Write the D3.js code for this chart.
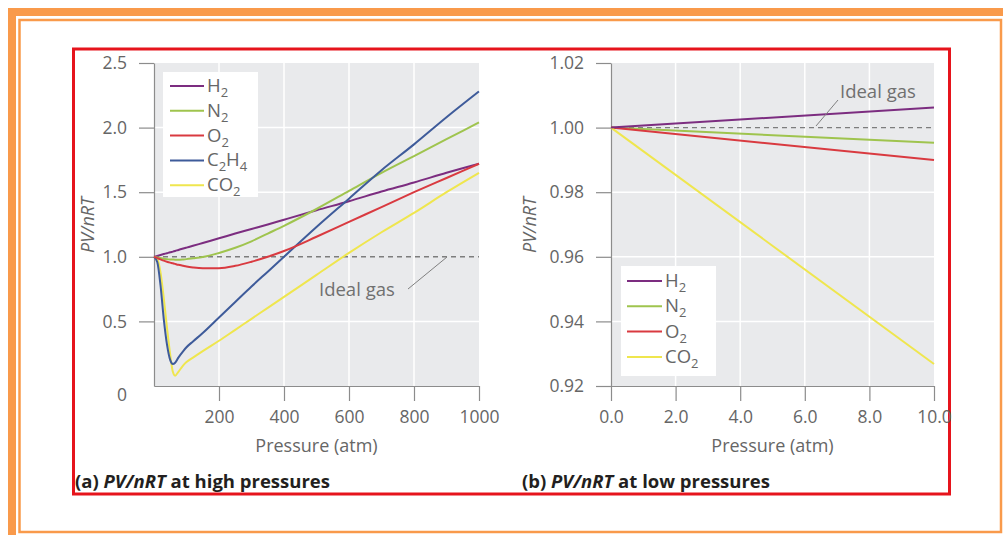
<!DOCTYPE html>
<html>
<head>
<meta charset="utf-8">
<script src="https://cdn.jsdelivr.net/npm/d3@7"></script>
<style>
  html, body { margin: 0; padding: 0; background: #fff; }
  svg { display: block; }
  text { font-family: "Open Sans", "Noto Sans", sans-serif; }
</style>
</head>
<body>
<svg id="chart" width="1003" height="535"></svg>
<script>
// ---------- DATA ----------
const pressureHigh = [0, 10, 20, 30, 40, 50, 58, 65, 75, 90, 100, 120, 150, 200, 250, 300, 350, 400, 500, 600, 700, 800, 900, 1000];
const h2High   = [1.0, 1.007, 1.014, 1.021, 1.028, 1.035, 1.04, 1.045, 1.053, 1.064, 1.071, 1.085, 1.107, 1.143, 1.18, 1.215, 1.25, 1.287, 1.36, 1.43, 1.505, 1.575, 1.65, 1.72];
const n2High   = [1.0, 0.995, 0.99, 0.985, 0.982, 0.98, 0.979, 0.978, 0.978, 0.98, 0.982, 0.988, 0.998, 1.03, 1.07, 1.12, 1.18, 1.24, 1.37, 1.51, 1.65, 1.78, 1.91, 2.04];
const o2High   = [1.0, 0.99, 0.98, 0.97, 0.962, 0.955, 0.95, 0.945, 0.938, 0.93, 0.925, 0.918, 0.912, 0.912, 0.93, 0.962, 1.0, 1.045, 1.155, 1.27, 1.385, 1.5, 1.61, 1.72];
const c2h4High = [1.0, 0.96, 0.78, 0.52, 0.32, 0.2, 0.17, 0.18, 0.22, 0.27, 0.3, 0.345, 0.41, 0.53, 0.65, 0.77, 0.885, 1.0, 1.23, 1.45, 1.67, 1.87, 2.08, 2.28];
const co2High  = [1.0, 0.98, 0.88, 0.68, 0.45, 0.24, 0.11, 0.08, 0.11, 0.16, 0.185, 0.22, 0.27, 0.35, 0.435, 0.52, 0.605, 0.69, 0.86, 1.03, 1.19, 1.34, 1.5, 1.65];

const pressureLow = [0, 10];
const h2Low  = [1.0, 1.0062];
const n2Low  = [1.0, 0.9953];
const o2Low  = [1.0, 0.990];
const co2Low = [1.0, 0.9268];

const highXTicks = [200, 400, 600, 800, 1000];
const highYTicks = [0, 0.5, 1.0, 1.5, 2.0, 2.5];
const lowXTicks  = [0, 2, 4, 6, 8, 10];
const lowYTicks  = [0.92, 0.94, 0.96, 0.98, 1.00, 1.02];

const gasHigh = [
  {name: "H", sub: "2", key: "H2", values: h2High},
  {name: "N", sub: "2", key: "N2", values: n2High},
  {name: "O", sub: "2", key: "O2", values: o2High},
  {name: "C", sub: "2", name2: "H", sub2: "4", key: "C2H4", values: c2h4High},
  {name: "CO", sub: "2", key: "CO2", values: co2High}
];
const gasLow = [
  {name: "H", sub: "2", key: "H2", values: h2Low},
  {name: "N", sub: "2", key: "N2", values: n2Low},
  {name: "O", sub: "2", key: "O2", values: o2Low},
  {name: "CO", sub: "2", key: "CO2", values: co2Low}
];
const colors = {H2: "#7c2d80", N2: "#9fc44e", O2: "#d93a40", C2H4: "#3e5b9a", CO2: "#efe64e"};

// ---------- DRAW ----------
const svg = d3.select("#chart");
const TXT = "#666666", AX = "#8c8c8c";

// frames
svg.append("rect").attr("x", 12).attr("y", 12).attr("width", 1003).attr("height", 535)
  .attr("fill", "none").attr("stroke", "#f99a4b").attr("stroke-width", 8);
svg.append("rect").attr("x", 19.5).attr("y", 20).attr("width", 981.5).attr("height", 512)
  .attr("fill", "none").attr("stroke", "#f99a4b").attr("stroke-width", 2.5);
svg.append("rect").attr("x", 73.5).attr("y", 49).attr("width", 876).attr("height", 445)
  .attr("fill", "none").attr("stroke", "#e6141c").attr("stroke-width", 3);

function panel(opt) {
  const g = svg.append("g");
  const x = d3.scaleLinear().domain(opt.xDomain).range(opt.xRange);
  const y = d3.scaleLinear().domain(opt.yDomain).range(opt.yRange);
  // background
  g.append("rect").attr("x", opt.xRange[0]).attr("y", opt.yRange[1])
    .attr("width", opt.xRange[1] - opt.xRange[0]).attr("height", opt.yRange[0] - opt.yRange[1])
    .attr("fill", "#e9eaec");
  // grid
  g.selectAll(".vg").data(opt.xGrid).join("line")
    .attr("x1", d => x(d)).attr("x2", d => x(d))
    .attr("y1", opt.yRange[0]).attr("y2", opt.yRange[1])
    .attr("stroke", "#fff").attr("stroke-width", 1.5);
  g.selectAll(".hg").data(opt.yGrid).join("line")
    .attr("x1", opt.xRange[0]).attr("x2", opt.xRange[1])
    .attr("y1", d => y(d)).attr("y2", d => y(d))
    .attr("stroke", "#fff").attr("stroke-width", 1.5);
  // ideal gas dashed
  g.append("line").attr("x1", x(opt.xDomain[0])).attr("x2", x(opt.xDomain[1]))
    .attr("y1", y(1)).attr("y2", y(1))
    .attr("stroke", "#7d7d7d").attr("stroke-width", 1.4).attr("stroke-dasharray", "5,4");
  // axes
  const xa = g.append("g").attr("transform", `translate(0,${opt.yRange[0]})`)
    .call(d3.axisBottom(x).tickValues(opt.xTicks).tickSize(15).tickPadding(10).tickSizeOuter(0).tickFormat(opt.xFormat));
  const ya = g.append("g").attr("transform", `translate(${opt.xRange[0]},0)`)
    .call(d3.axisLeft(y).tickValues(opt.yTicks).tickSize(15).tickPadding(12).tickSizeOuter(0).tickFormat(opt.yFormat));
  [xa, ya].forEach(a => {
    a.select(".domain").attr("stroke", AX).attr("stroke-width", 1.2);
    a.selectAll(".tick line").attr("stroke", AX).attr("stroke-width", 1.2);
    a.selectAll(".tick text").attr("fill", TXT).style("font-size", "17.5px").style("font-family", '"Open Sans", sans-serif');
  });
  if (opt.onAxes) opt.onAxes(xa, ya);
  // lines
  const line = d3.line().x((d, i) => x(opt.xs[i])).y(d => y(d)).curve(d3.curveMonotoneX);
  opt.series.forEach(s => {
    g.append("path").datum(s.values).attr("d", line)
      .attr("fill", "none").attr("stroke", colors[s.key]).attr("stroke-width", 2)
      .attr("stroke-linejoin", "round");
  });
  // legend
  const L = opt.legend;
  g.append("rect").attr("x", L.x).attr("y", L.y).attr("width", L.w).attr("height", L.h).attr("fill", "#fff");
  opt.legendSeries.forEach((s, i) => {
    const cy = L.y0 + i * L.dy;
    g.append("line").attr("x1", L.lx1).attr("x2", L.lx2).attr("y1", cy).attr("y2", cy)
      .attr("stroke", colors[s.key]).attr("stroke-width", 2);
    const t = g.append("text").attr("x", L.tx).attr("y", cy + 6).attr("fill", TXT).style("font-size", "18.5px");
    t.append("tspan").text(s.name);
    t.append("tspan").text(s.sub).style("font-size", "13px").attr("dy", 5);
    if (s.name2) {
      t.append("tspan").text(s.name2).attr("dy", -5);
      t.append("tspan").text(s.sub2).style("font-size", "13px").attr("dy", 5);
    }
  });
  // ideal gas label
  const I = opt.ideal;
  g.append("text").attr("x", I.tx).attr("y", I.ty).attr("fill", "#707070").style("font-size", "18.5px").text("Ideal gas");
  g.append("line").attr("x1", I.x1).attr("y1", I.y1).attr("x2", I.x2).attr("y2", I.y2)
    .attr("stroke", "#808080").attr("stroke-width", 1);
  // axis titles
  g.append("text").attr("x", (opt.xRange[0] + opt.xRange[1]) / 2).attr("y", 452)
    .attr("text-anchor", "middle").attr("fill", TXT).style("font-size", "18px").text("Pressure (atm)");
  g.append("text").attr("transform", `translate(${opt.ylabX},225) rotate(-90)`)
    .attr("text-anchor", "middle").attr("dy", "0.35em").attr("fill", TXT)
    .style("font-size", "18px").style("font-style", "italic").text("PV/nRT");
  // panel title
  const tt = g.append("text").attr("x", opt.titleX).attr("y", 488).attr("fill", "#231f20")
    .style("font-size", "18.5px").style("font-weight", "bold");
  tt.append("tspan").text(opt.titleA + " ");
  tt.append("tspan").text("PV/nRT").style("font-style", "italic");
  tt.append("tspan").text(opt.titleB);
}

panel({
  xDomain: [0, 1000], xRange: [154, 479],
  yDomain: [0, 2.5], yRange: [386, 63],
  xGrid: [200, 400, 600, 800], yGrid: [0.5, 1.5, 2.0],
  xTicks: highXTicks, yTicks: highYTicks,
  xFormat: d3.format("d"), yFormat: d => d === 0 ? "0" : d3.format(".1f")(d),
  onAxes: (xa, ya) => {
    ya.selectAll(".tick").filter(d => d === 0).select("line").remove();
    ya.selectAll(".tick").filter(d => d === 0).select("text").attr("dy", "0.85em");
  },
  xs: pressureHigh,
  series: [gasHigh[0], gasHigh[1], gasHigh[4], gasHigh[3], gasHigh[2]],
  legendSeries: gasHigh,
  legend: {x: 163, y: 72, w: 95, h: 125, y0: 86, dy: 24.8, lx1: 170, lx2: 204, tx: 207},
  ideal: {tx: 319, ty: 296, x1: 408, y1: 289, x2: 447, y2: 257},
  ylabX: 88, titleX: 75, titleA: "(a)", titleB: " at high pressures"
});

panel({
  xDomain: [0, 10], xRange: [611, 934],
  yDomain: [0.92, 1.02], yRange: [386, 63],
  xGrid: [2, 4, 6, 8], yGrid: [0.94, 0.96, 0.98],
  xTicks: lowXTicks, yTicks: lowYTicks,
  xFormat: d3.format(".1f"), yFormat: d3.format(".2f"),
  xs: pressureLow,
  series: [gasLow[1], gasLow[2], gasLow[3], gasLow[0]],
  legendSeries: gasLow,
  legend: {x: 621, y: 266, w: 95, h: 110, y0: 281, dy: 25.3, lx1: 627, lx2: 662, tx: 665},
  ideal: {tx: 840, ty: 98, x1: 816, y1: 126, x2: 838, y2: 100},
  ylabX: 530, titleX: 522, titleA: "(b)", titleB: " at low pressures"
});
</script>
</body>
</html>
